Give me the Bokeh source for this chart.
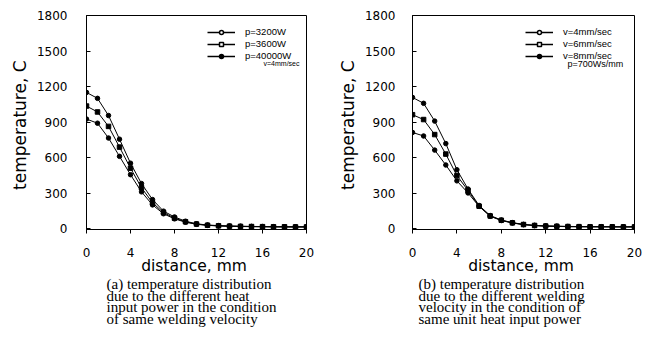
from bokeh.plotting import figure
from bokeh.layouts import row
from bokeh.models import (ColumnDataSource, FixedTicker, Range1d, Legend, LegendItem,
                          Label, Title)
from bokeh.embed import file_html
from bokeh.resources import INLINE

# ---------------- data ----------------
distance = list(range(0, 21))

# (a) different heat input power, v = 4 mm/sec
a_labels = ["p=3200W", "p=3600W", "p=40000W"]
a_p3200 = [925, 890, 765, 610, 455, 310, 200, 125, 82, 54, 36, 27, 22, 19, 17, 16, 15, 14, 14, 13, 13]
a_p3600 = [1035, 985, 863, 688, 510, 345, 218, 135, 88, 57, 38, 28, 23, 20, 18, 17, 16, 15, 15, 14, 14]
a_p4000 = [1150, 1100, 955, 755, 552, 380, 245, 147, 98, 62, 40, 30, 25, 22, 20, 18, 17, 16, 15, 15, 15]
a_note = "v=4mm/sec"
a_caption = ["(a) temperature distribution",
             "due to the different heat",
             "input power in the condition",
             "of same welding velocity"]

# (b) different welding velocity, same unit heat input 700 Ws/mm
b_labels = ["v=4mm/sec", "v=6mm/sec", "v=8mm/sec"]
b_v4 = [812, 782, 663, 537, 403, 301, 187, 104, 68, 47, 33, 25, 20, 18, 16, 15, 15, 14, 14, 14, 14]
b_v6 = [962, 921, 794, 629, 448, 322, 189, 106, 70, 48, 34, 26, 21, 19, 17, 16, 15, 15, 15, 14, 14]
b_v8 = [1108, 1058, 908, 718, 497, 334, 195, 110, 72, 50, 35, 27, 22, 20, 18, 17, 16, 16, 15, 15, 15]
b_note = "p=700Ws/mm"
b_caption = ["(b) temperature distribution",
             "due to the different welding",
             "velocity in the condition of",
             "same unit heat input power"]

x_ticks = [0, 4, 8, 12, 16, 20]
y_ticks = [0, 300, 600, 900, 1200, 1500, 1800]

SANS = "DejaVu Sans"
SERIF = "Liberation Serif"
LEG = "Liberation Sans"
NAN = float("nan")

X0, X1 = 0, 20
Y0, Y1 = -8, 1800
FRAME_H = 214
TOP = 15


def make_panel(series, labels, note, caption, border_left, border_right, frame_w,
               tick_standoff, note_px, note_size, leg_x, cap_offset):
    p = figure(frame_width=frame_w, frame_height=FRAME_H,
               min_border_left=border_left, min_border_right=border_right,
               min_border_top=TOP, min_border_bottom=341 - TOP - FRAME_H,
               x_range=Range1d(X0, X1), y_range=Range1d(Y0, Y1),
               output_backend="svg", toolbar_location=None,
               background_fill_color="white", border_fill_color="white")
    p.grid.visible = False
    p.outline_line_color = "black"
    p.outline_line_width = 1

    # pixel -> data helpers for the in-frame note placement
    def px_x(px):
        return X0 + px * (X1 - X0) / frame_w

    def px_y(px_below_top):
        return Y1 - px_below_top * (Y1 - Y0) / FRAME_H

    p.xaxis.ticker = FixedTicker(ticks=x_ticks)
    p.yaxis.ticker = FixedTicker(ticks=y_ticks)
    for ax in (p.xaxis, p.yaxis):
        ax.minor_tick_line_color = None
        ax.axis_line_color = "black"
        ax.major_tick_line_color = "black"
        ax.major_label_text_font = SANS
        ax.major_label_text_font_size = "12px"
        ax.major_label_text_color = "black"
        ax.axis_label_text_font = SANS
        ax.axis_label_text_font_style = "normal"
        ax.axis_label_text_color = "black"
    p.xaxis.major_tick_in = 0
    p.xaxis.major_tick_out = 4
    p.yaxis.major_tick_in = 4
    p.yaxis.major_tick_out = 0
    p.xaxis.major_label_standoff = 14
    p.yaxis.major_label_standoff = tick_standoff
    p.xaxis.axis_label = "distance,  mm"
    p.xaxis.axis_label_text_font_size = "15.5px"
    p.xaxis.axis_label_standoff = -3
    p.yaxis.axis_label = "temperature,  C"
    p.yaxis.axis_label_text_font_size = "17px"
    p.yaxis.axis_label_standoff = 4

    markers = ["circle", "square", "circle"]
    fills = ["white", "white", "black"]
    items = []
    for ys, lab, mk, fc in zip(series, labels, markers, fills):
        src = ColumnDataSource(dict(x=distance, y=ys))
        p.line("x", "y", source=src, line_color="black", line_width=1)
        p.scatter("x", "y", source=src, marker=mk, size=4.5, line_color="black",
                  fill_color="black", line_width=1)
        # legend-only renderers (no drawable data) carrying the legend symbol style
        empty = ColumnDataSource(dict(x=[NAN], y=[NAN]))
        lr = p.line("x", "y", source=empty, line_color="black", line_width=1.5)
        sr = p.scatter("x", "y", source=empty, marker=mk, size=7, line_color="black",
                       fill_color=fc, line_width=1.5)
        items.append(LegendItem(label=lab, renderers=[lr, sr]))

    leg = Legend(items=items, location=(leg_x, 168), border_line_color=None,
                 background_fill_alpha=0, padding=0, margin=0, spacing=1,
                 glyph_width=28, glyph_height=10, label_height=10,
                 label_standoff=10, label_text_font=LEG,
                 label_text_font_size="9.5px", label_text_color="black")
    p.add_layout(leg, "center")

    p.add_layout(Label(x=px_x(note_px), y=px_y(48), text=note, text_font=LEG,
                       text_font_size=note_size, text_baseline="middle",
                       text_color="black"))

    # caption block below the axis title (one multi-line title)
    p.add_layout(Title(text="\n".join(caption), align="left", offset=cap_offset,
                       text_font=SERIF, text_font_size="15px",
                       text_font_style="normal", text_color="black",
                       standoff=-7, text_line_height=0.72),
                 "below")
    return p


pa = make_panel([a_p3200, a_p3600, a_p4000], a_labels, a_note, a_caption,
                86, 19, 220, 19, 177, "7px", 121, 20)
pb = make_panel([b_v4, b_v6, b_v8], b_labels, b_note, b_caption,
                87, 17, 222, 17, 155, "9px", 113, 6)

layout = row(pa, pb, spacing=0)
open("out.html", "w").write(file_html(layout, INLINE))
